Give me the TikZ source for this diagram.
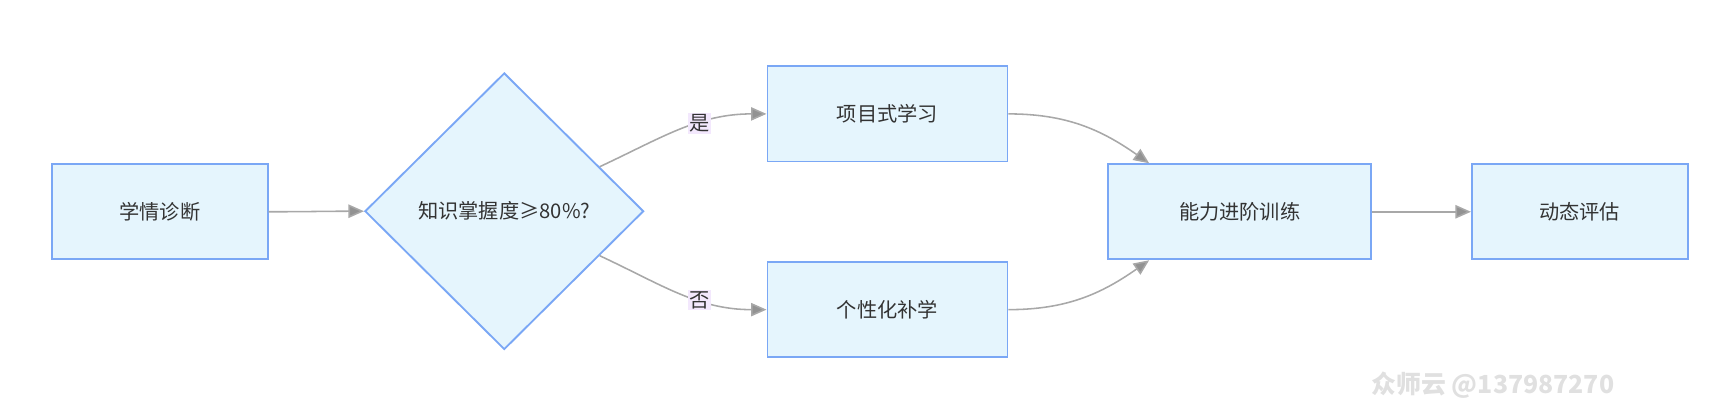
\documentclass[tikz,border=0pt]{standalone}
\usepackage{fontspec}
\setmainfont{Noto Sans CJK SC}
\usetikzlibrary{shapes.geometric,arrows.meta,calc}
\definecolor{boxfill}{HTML}{E5F5FD}
\definecolor{boxline}{HTML}{7AA7F5}
\definecolor{lnk}{HTML}{A8A8A8}
\definecolor{lblbg}{HTML}{F3E8FD}
\definecolor{txt}{HTML}{333333}
\begin{document}
\begin{tikzpicture}[x=0.025cm,y=-0.025cm,
  box/.style={rectangle, draw=boxline, fill=boxfill, line width=1.2pt, text=txt,
              minimum height=2.15cm, font=\fontsize{13}{15}\selectfont},
  dia/.style={diamond, draw=boxline, fill=boxfill, line width=1.2pt, text=txt,
              minimum width=6.3cm, minimum height=6.25cm, inner sep=0pt, font=\fontsize{13}{15}\selectfont},
  lnk/.style={draw=lnk, line width=1pt, -{Triangle[length=0.35cm,width=0.3cm,fill=lnk!80!black!90]}},
  lbl/.style={fill=lblbg, text=txt, inner sep=1pt, font=\fontsize{13}{15}\selectfont}]
\useasboundingbox (0,0) rectangle (1568,367);
\node[box, minimum width=4.875cm] (diag) at (144.5,191.5) {学情诊断};
\node[dia] (chk) at (456,191) {知识掌握度≥80\%?};
\node[box, minimum width=5.425cm] (proj) at (802.5,103) {项目式学习};
\node[box, minimum width=5.425cm] (remd) at (802.5,280) {个性化补学};
\node[box, minimum width=5.95cm] (trn) at (1121,191.5) {能力进阶训练};
\node[box, minimum width=4.875cm] (eval) at (1428.5,191.5) {动态评估};
% connectors
\draw[lnk] (diag.east) to[out=0,in=180] (chk.west);
\draw[lnk] (chk.25) to[out=25,in=180] node[lbl,pos=0.62]{是} (proj.west);
\draw[lnk] (chk.-25) to[out=-25,in=180] node[lbl,pos=0.62]{否} (remd.west);
\draw[lnk] (proj.east) to[out=0,in=145] ([xshift=0.95cm]trn.north west);
\draw[lnk] (remd.east) to[out=0,in=-145] ([xshift=0.95cm]trn.south west);
\draw[lnk] (trn.east) -- (eval.west);
\node[text=black!12, font=\bfseries\fontsize{16}{18}\selectfont] (wm) at (1350,348) {众师云 @137987270};
\end{tikzpicture}
\end{document}
